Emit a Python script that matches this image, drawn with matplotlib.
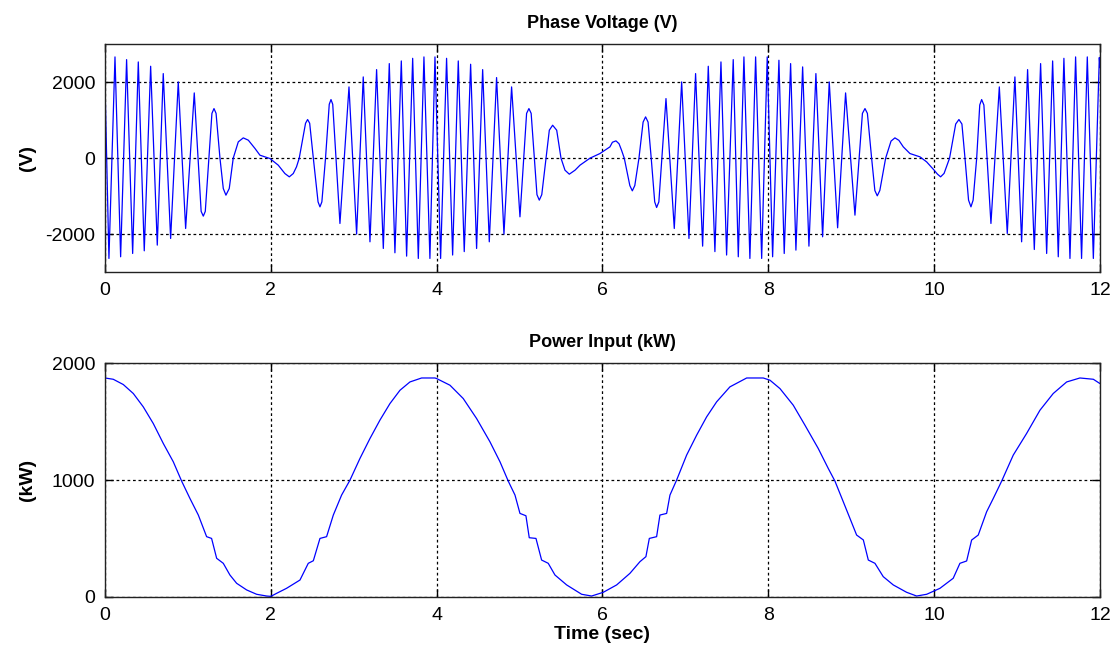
import matplotlib
matplotlib.use("Agg")
import matplotlib.pyplot as plt

plt.rcParams["font.family"] = ["Liberation Sans", "DejaVu Sans"]
plt.rcParams["axes.unicode_minus"] = False

# Phase voltage: extrema, shoulders and crossings (sec, V)
volt_t = [0.0, 0.048, 0.121, 0.189, 0.261, 0.334, 0.402, 0.474, 0.551, 0.631,
          0.703, 0.792, 0.884, 0.973, 1.077, 1.16, 1.186, 1.21, 1.29, 1.315,
          1.34, 1.387, 1.427, 1.459, 1.499, 1.547, 1.608, 1.668, 1.729, 1.81,
          1.869, 1.99, 2.09, 2.17, 2.223, 2.271, 2.31, 2.343, 2.419, 2.444,
          2.469, 2.513, 2.57, 2.593, 2.616, 2.66, 2.705, 2.726, 2.747, 2.834,
          2.943, 3.035, 3.115, 3.196, 3.276, 3.357, 3.429, 3.497, 3.574, 3.638,
          3.711, 3.779, 3.847, 3.919, 3.98, 4.048, 4.12, 4.193, 4.261, 4.333,
          4.41, 4.482, 4.555, 4.635, 4.723, 4.812, 4.904, 5.005, 5.085, 5.113,
          5.14, 5.178, 5.21, 5.238, 5.268, 5.32, 5.359, 5.399, 5.448, 5.5,
          5.548, 5.6, 5.669, 5.729, 5.849, 5.97, 6.09, 6.12, 6.163, 6.2,
          6.23, 6.263, 6.33, 6.36, 6.39, 6.44, 6.49, 6.52, 6.55, 6.588,
          6.63, 6.653, 6.68, 6.766, 6.866, 6.955, 7.043, 7.123, 7.208, 7.276,
          7.356, 7.429, 7.497, 7.577, 7.638, 7.706, 7.778, 7.847, 7.92, 7.987,
          8.052, 8.128, 8.192, 8.269, 8.333, 8.414, 8.49, 8.574, 8.655, 8.735,
          8.836, 8.932, 9.045, 9.135, 9.166, 9.195, 9.246, 9.285, 9.314, 9.345,
          9.415, 9.48, 9.527, 9.575, 9.628, 9.708, 9.829, 9.909, 10.0, 10.04,
          10.078, 10.12, 10.186, 10.26, 10.299, 10.335, 10.372, 10.415, 10.444, 10.47,
          10.513, 10.55, 10.573, 10.6, 10.685, 10.786, 10.882, 10.974, 11.055, 11.127,
          11.208, 11.284, 11.357, 11.429, 11.497, 11.565, 11.638, 11.706, 11.778, 11.847,
          11.92, 11.992, 12.0]
volt_v = [2000, -2640, 2667, -2596, 2596, -2509, 2535, -2439, 2421, -2289,
          2228, -2114, 2009, -1851, 1719, -1400, -1526, -1400, 1180, 1307,
          1180, 0, -798, -974, -798, 0, 430, 535, 474, 254,
          79, -9, -184, -404, -491, -404, -228, 0, 920, 1018,
          920, 0, -1150, -1281, -1150, 0, 1420, 1544, 1420, -1719,
          1877, -2000, 2140, -2202, 2333, -2377, 2491, -2491, 2561, -2579,
          2630, -2640, 2667, -2640, 2667, -2640, 2630, -2550, 2561, -2460,
          2474, -2377, 2333, -2202, 2123, -2000, 1877, -1544, 1180, 1307,
          1180, 0, -960, -1105, -960, 0, 737, 868, 737, 0,
          -316, -421, -316, -184, 0, 123, 298, 420, 456, 380,
          210, 0, -720, -860, -720, 0, 950, 1088, 950, 0,
          -1150, -1298, -1150, 1570, -1851, 2009, -2114, 2228, -2316, 2421,
          -2460, 2535, -2550, 2596, -2596, 2667, -2640, 2667, -2640, 2667,
          -2596, 2579, -2509, 2491, -2421, 2404, -2316, 2228, -2070, 2009,
          -1833, 1719, -1500, 1180, 1307, 1180, 0, -850, -991, -850,
          0, 450, 535, 470, 298, 123, 35, -96, -316, -420,
          -491, -400, 0, 900, 1018, 900, 0, -1105, -1281, -1105,
          0, 1400, 1544, 1400, -1719, 1877, -1983, 2140, -2202, 2333,
          -2404, 2491, -2509, 2561, -2596, 2630, -2640, 2667, -2640, 2667,
          -2640, 2650, 2400]

# Power input (sec, kW)
power_t = [0.0, 0.1, 0.221, 0.342, 0.462, 0.583, 0.704, 0.824, 0.925, 1.025,
           1.126, 1.226, 1.286, 1.347, 1.427, 1.507, 1.588, 1.709, 1.829, 1.95,
           2.0, 2.07, 2.19, 2.352, 2.452, 2.513, 2.593, 2.673, 2.754, 2.854,
           2.955, 3.075, 3.196, 3.316, 3.437, 3.558, 3.678, 3.819, 3.98, 4.0,
           4.161, 4.321, 4.482, 4.643, 4.764, 4.864, 4.945, 5.005, 5.077, 5.117,
           5.198, 5.266, 5.346, 5.427, 5.568, 5.749, 5.869, 6.01, 6.171, 6.331,
           6.452, 6.524, 6.565, 6.653, 6.693, 6.774, 6.814, 6.894, 7.015, 7.136,
           7.256, 7.377, 7.537, 7.739, 7.939, 8.02, 8.141, 8.301, 8.442, 8.602,
           8.723, 8.804, 8.904, 8.985, 9.065, 9.146, 9.206, 9.286, 9.386, 9.507,
           9.668, 9.789, 9.91, 10.07, 10.23, 10.311, 10.392, 10.452, 10.532, 10.633,
           10.713, 10.814, 10.954, 11.115, 11.276, 11.436, 11.598, 11.758, 11.92, 12.0]
power_v = [1874, 1863, 1818, 1741, 1627, 1484, 1313, 1157, 991, 843,
           701, 516, 501, 331, 288, 188, 117, 60, 23, 8,
           5, 31, 74, 145, 288, 310, 501, 516, 701, 872,
           1000, 1185, 1356, 1513, 1655, 1769, 1840, 1874, 1874, 1869,
           1812, 1698, 1527, 1328, 1157, 991, 872, 715, 695, 507,
           501, 316, 288, 188, 103, 23, 8, 40, 103, 202,
           302, 345, 501, 516, 701, 715, 872, 1000, 1214, 1385,
           1541, 1670, 1798, 1874, 1874, 1855, 1783, 1641, 1470, 1271,
           1100, 991, 815, 672, 530, 488, 316, 288, 174, 103,
           40, 8, 23, 74, 160, 288, 308, 487, 530, 729,
           843, 991, 1214, 1399, 1598, 1741, 1840, 1874, 1863, 1826]

x_ticks = [0, 2, 4, 6, 8, 10, 12]
volt_ticks = [-2000, 0, 2000]
power_ticks = [0, 1000, 2000]

fig = plt.figure(figsize=(11.13, 6.51), dpi=100)
ax1 = fig.add_axes([0.0943, 0.582, 0.894, 0.350])
ax2 = fig.add_axes([0.0943, 0.083, 0.894, 0.359])

ax1.plot(volt_t, volt_v, color="#0000ff", linewidth=0.9)
ax2.plot(power_t, power_v, color="#0000ff", linewidth=0.9)

ax1.set_ylim(-3000, 3000)
ax1.set_yticks(volt_ticks)
ax2.set_ylim(0, 2000)
ax2.set_yticks(power_ticks)

for ax in (ax1, ax2):
    ax.set_xlim(0, 12)
    ax.set_xticks(x_ticks)
    ax.tick_params(direction="in", top=True, right=True, length=6,
                   width=1, labelsize=14, pad=7, colors="black")
    ax.grid(True, color="black", linestyle=(0, (2.2, 2.2)), linewidth=0.9)
    for sp in ax.spines.values():
        sp.set_color("#222222")
        sp.set_linewidth(1.0)

ax1.set_title("Phase Voltage (V)", fontsize=13, fontweight="bold", pad=12)
ax2.set_title("Power Input (kW)", fontsize=13, fontweight="bold", pad=12)
ax1.set_ylabel("(V)", fontsize=14, fontweight="bold")
ax2.set_ylabel("(kW)", fontsize=14, fontweight="bold")
ax1.yaxis.set_label_coords(-0.069, 0.5)
ax2.yaxis.set_label_coords(-0.069, 0.5)
ax2.set_xlabel("Time (sec)", fontsize=14, fontweight="bold", labelpad=2)

fig.savefig("out.png", dpi=100)
